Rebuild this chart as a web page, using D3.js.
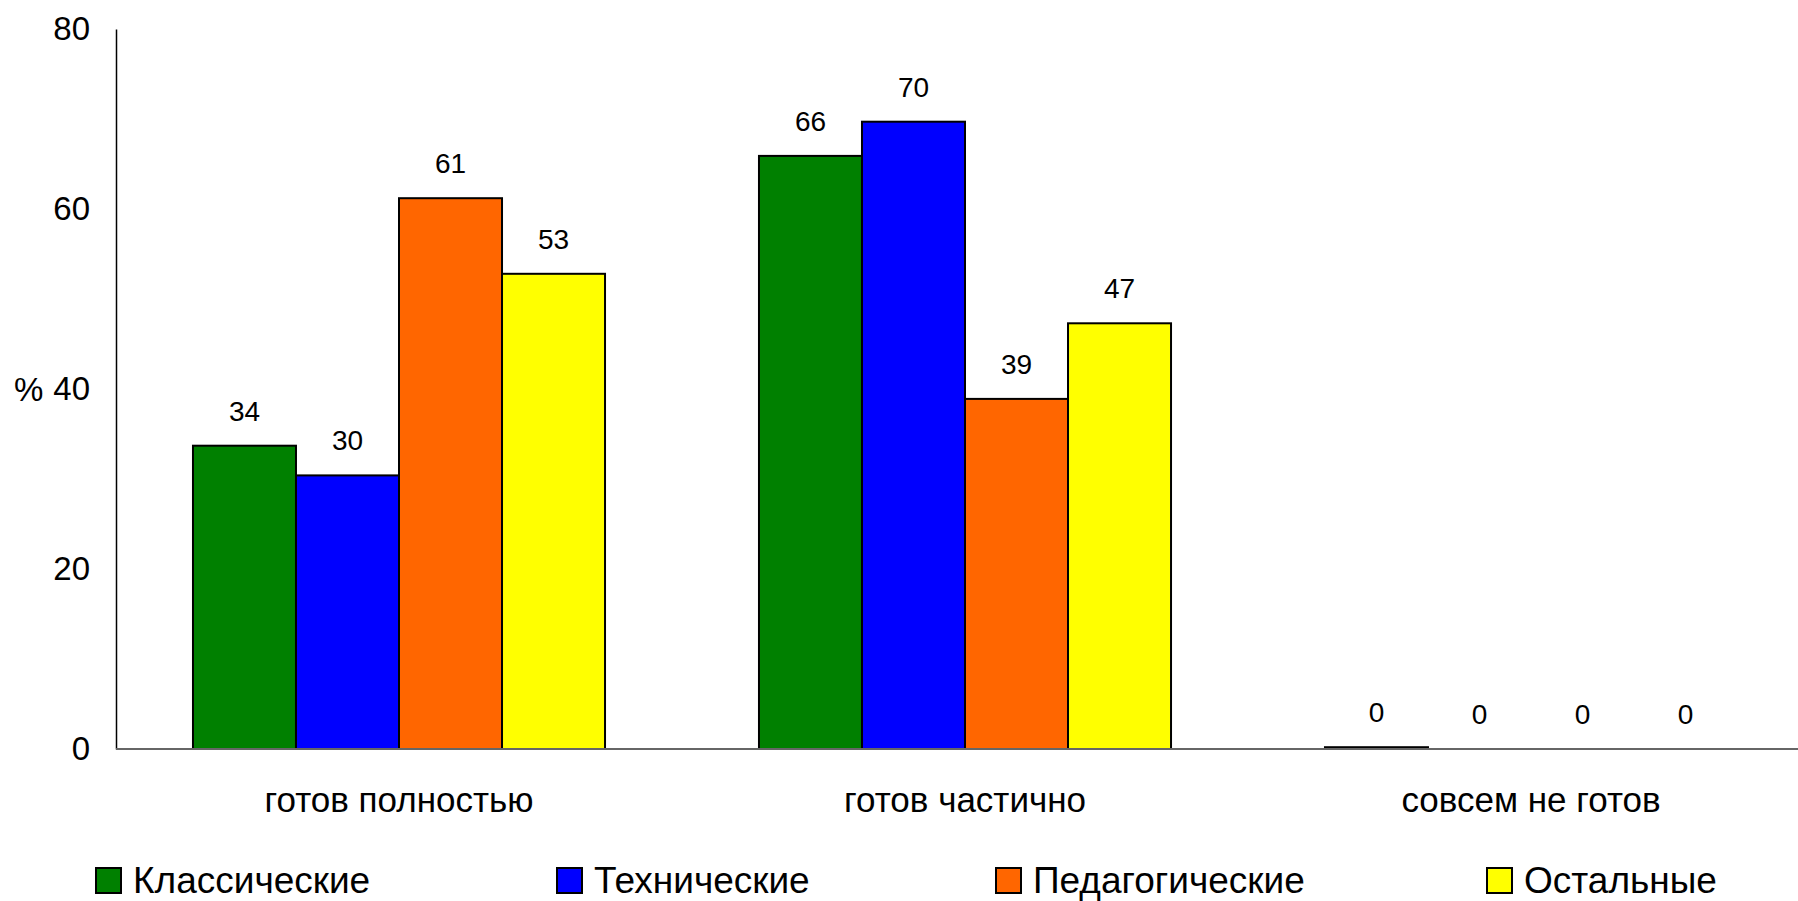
<!DOCTYPE html>
<html>
<head>
<meta charset="utf-8">
<script src="https://cdn.jsdelivr.net/npm/d3@7"></script>
<style>
	body { margin: 0; background: #fff; }
	text { font-family: "Liberation Sans", Arial, sans-serif; fill: #000; }
</style>
</head>
<body>
<div id="chart"></div>
<script>
// data
var categories = ["готов полностью", "готов частично", "совсем не готов"];
var seriesNames = ["Классические", "Технические", "Педагогические", "Остальные"];
var classicValues = [33.7, 65.9, 0.2];
var technicalValues = [30.4, 69.7, 0];
var pedagogicalValues = [61.2, 38.9, 0];
var otherValues = [52.8, 47.3, 0];
var yTicks = [0, 20, 40, 60, 80];

var seriesValues = [classicValues, technicalValues, pedagogicalValues, otherValues];
var seriesColors = ["#008000", "#0000ff", "#ff6600", "#ffff00"];

var width = 1798, height = 901;
var plot = { left: 116, right: 1814, top: 29, bottom: 749 };

var svg = d3.select("#chart")
	.append("svg")
	.attr("width", width)
	.attr("height", height);

var x0 = d3.scaleBand()
	.domain(categories)
	.range([plot.left, plot.right])
	.paddingInner(0.272)
	.paddingOuter(0.136);

var x1 = d3.scaleBand()
	.domain(seriesNames)
	.range([0, x0.bandwidth()]);

var y = d3.scaleLinear()
	.domain([0, 80])
	.range([plot.bottom, plot.top]);

var color = d3.scaleOrdinal().domain(seriesNames).range(seriesColors);

// y axis
var yAxis = svg.append("g")
	.attr("transform", "translate(" + plot.left + ",0)")
	.call(d3.axisLeft(y).tickValues(yTicks).tickSize(0).tickPadding(26));
yAxis.select(".domain").attr("stroke", "#000").attr("stroke-width", 1.5);
yAxis.selectAll("text")
	.style("font-size", "33px")
	.style("font-family", "\"Liberation Sans\", Arial, sans-serif");

svg.append("text")
	.attr("x", 14)
	.attr("y", y(40))
	.attr("dy", "0.35em")
	.style("font-size", "33px")
	.text("%");

// bars
var rows = [];
categories.forEach((c, i) => {
	seriesNames.forEach((s, j) => {
		rows.push({ category: c, series: s, value: seriesValues[j][i] });
	});
});

svg.append("g").selectAll("rect")
	.data(rows)
	.join("rect")
	.attr("x", d => x0(d.category) + x1(d.series))
	.attr("y", d => y(d.value))
	.attr("width", x1.bandwidth())
	.attr("height", d => y(0) - y(d.value))
	.attr("fill", d => color(d.series))
	.attr("stroke", "#000")
	.attr("stroke-width", 2);

// x axis line
svg.append("line")
	.attr("x1", plot.left)
	.attr("x2", width)
	.attr("y1", y(0))
	.attr("y2", y(0))
	.attr("stroke", "#666")
	.attr("stroke-width", 2);

// value labels
svg.append("g").selectAll("text")
	.data(rows)
	.join("text")
	.attr("x", d => x0(d.category) + x1(d.series) + x1.bandwidth() / 2)
	.attr("y", d => y(d.value) - 25)
	.attr("text-anchor", "middle")
	.style("font-size", "28px")
	.text(d => Math.round(d.value));

// category labels
svg.append("g").selectAll("text")
	.data(categories)
	.join("text")
	.attr("x", d => x0(d) + x0.bandwidth() / 2)
	.attr("y", 812)
	.attr("text-anchor", "middle")
	.style("font-size", "35px")
	.text(d => d);

// legend
var legendX = [96, 557, 996, 1487];
var legend = svg.append("g").selectAll("g")
	.data(seriesNames)
	.join("g")
	.attr("transform", (d, i) => "translate(" + legendX[i] + ",868)");

legend.append("rect")
	.attr("width", 25)
	.attr("height", 25)
	.attr("fill", d => color(d))
	.attr("stroke", "#000")
	.attr("stroke-width", 2);

legend.append("text")
	.attr("x", 37)
	.attr("y", 25)
	.style("font-size", "37px")
	.text(d => d);
</script>
</body>
</html>
